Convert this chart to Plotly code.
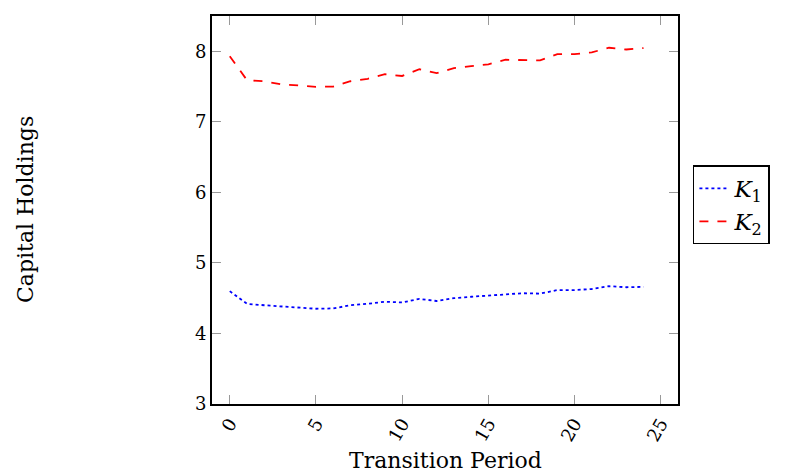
import plotly.graph_objects as go

periods = list(range(25))
k1 = [4.60, 4.42, 4.40, 4.38, 4.36, 4.35, 4.355, 4.40, 4.42, 4.45, 4.44, 4.49, 4.46,
      4.50, 4.52, 4.535, 4.56, 4.57, 4.565, 4.615, 4.615, 4.63, 4.67, 4.655, 4.66]
k2 = [7.93, 7.59, 7.575, 7.53, 7.515, 7.495, 7.50, 7.575, 7.61, 7.675, 7.65, 7.745, 7.69,
      7.76, 7.79, 7.815, 7.88, 7.88, 7.87, 7.96, 7.96, 7.985, 8.05, 8.025, 8.045]
x_ticks = [0, 5, 10, 15, 20, 25]
y_ticks = [3, 4, 5, 6, 7, 8]

FONT = "DejaVu Serif"

fig = go.Figure()
fig.add_trace(go.Scatter(x=periods, y=k1, mode="lines", name="<i>K</i><sub>1</sub>",
                         line=dict(color="rgb(0,0,255)", dash="dot", width=1.8)))
fig.add_trace(go.Scatter(x=periods, y=k2, mode="lines", name="<i>K</i><sub>2</sub>",
                         line=dict(color="rgb(255,0,0)", dash="dash", width=1.8)))

axis_common = dict(showline=True, linecolor="black", linewidth=2, mirror="ticks",
                   ticks="inside", ticklen=9, tickcolor="#999999", tickwidth=1,
                   showgrid=False, zeroline=False, automargin=False,
                   tickfont=dict(family=FONT, size=18, color="black"))

fig.update_layout(
    width=791, height=475,
    margin=dict(l=212, r=113, t=16, b=71),
    plot_bgcolor="white", paper_bgcolor="white",
    font=dict(family=FONT, color="black"),
    xaxis=dict(range=[-1.03, 26.0], tickvals=x_ticks, tickangle=-60, **axis_common),
    yaxis=dict(range=[3, 8.5], tickvals=y_ticks, **axis_common),
    legend=dict(x=1.032, y=0.513, xanchor="left", yanchor="middle",
                bordercolor="black", borderwidth=1.5, bgcolor="white",
                font=dict(family=FONT, size=23), tracegroupgap=0, itemwidth=30),
    showlegend=True,
    annotations=[
        dict(text="Capital Holdings", xref="paper", yref="paper",
             x=-(212 - 25) / 466, y=0.5, textangle=-90, showarrow=False,
             xanchor="center", yanchor="middle", font=dict(family=FONT, size=22)),
        dict(text="Transition Period", xref="paper", yref="paper",
             x=0.5, y=-(461 - 404) / 388, showarrow=False,
             xanchor="center", yanchor="middle", font=dict(family=FONT, size=22)),
    ],
)

fig.write_html("out.html")
